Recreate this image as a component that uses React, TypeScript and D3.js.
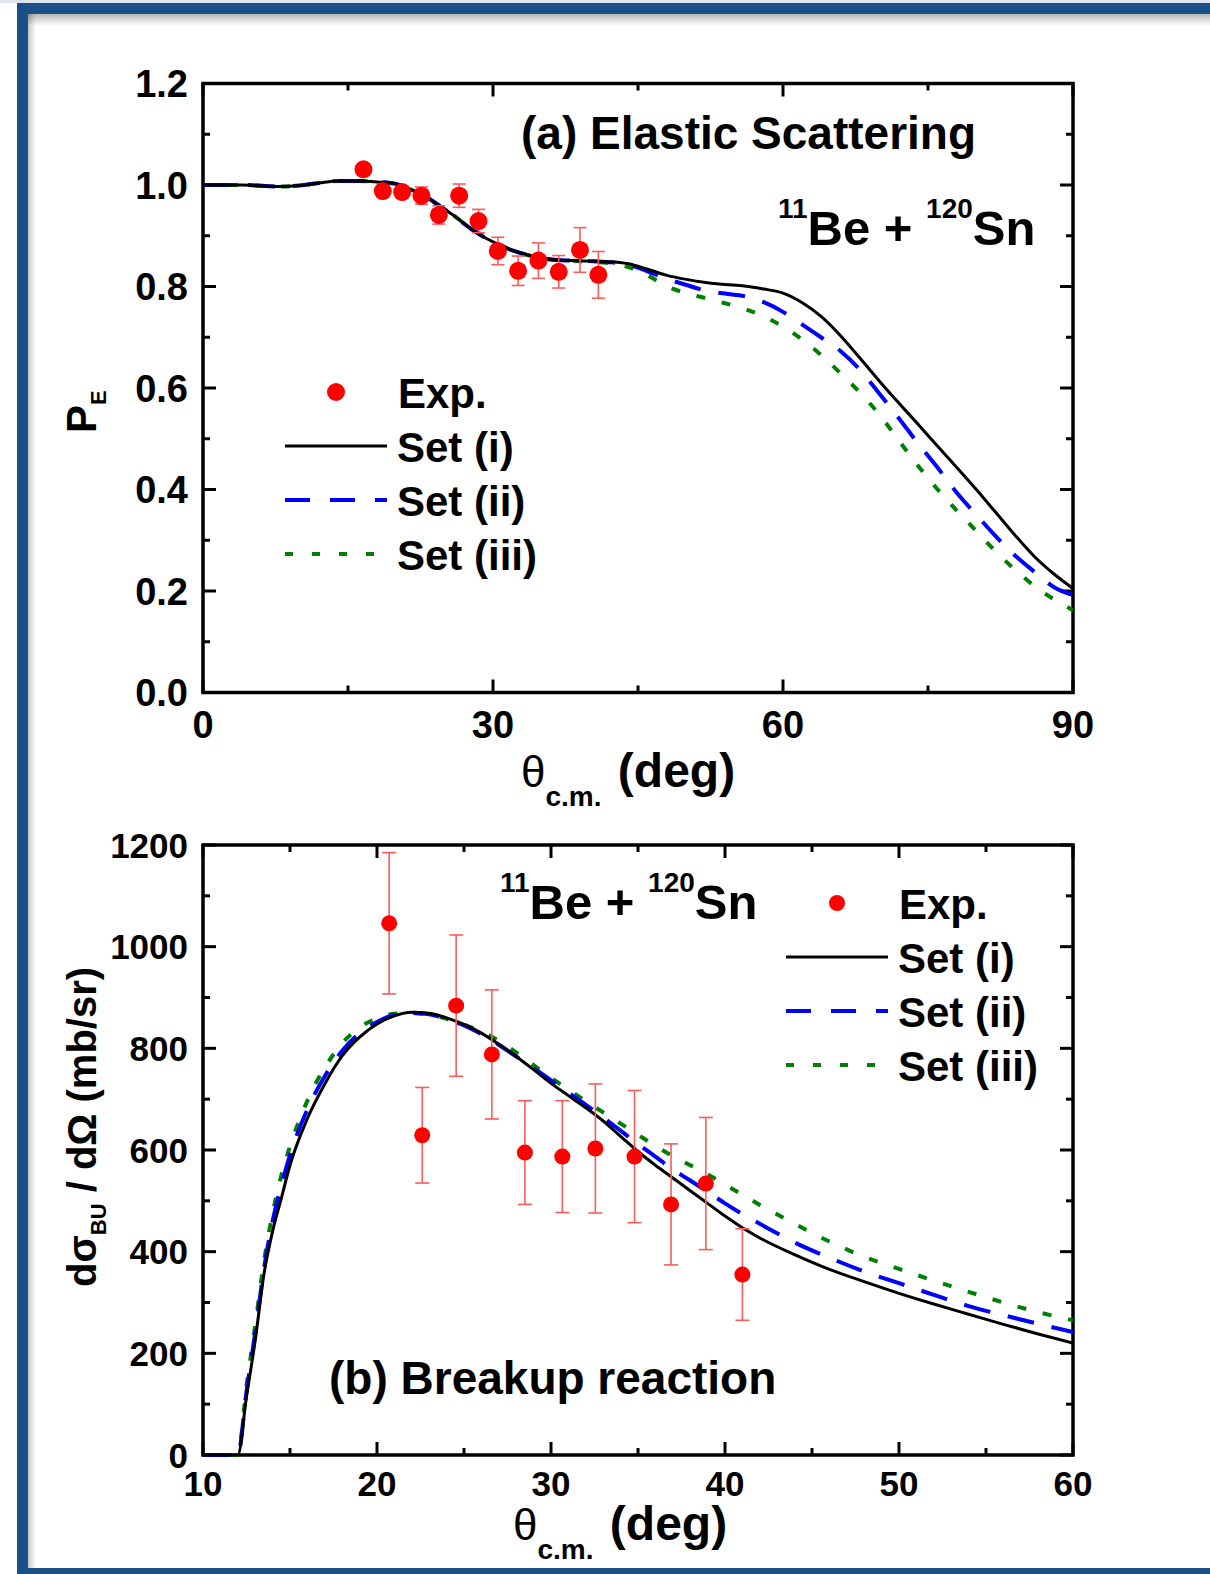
import React from "react";
import * as d3 from "d3";

const W = 1210;
const H = 1574;
const FONT = "'Liberation Sans', Arial, Helvetica, sans-serif";

// ---- panel (a): elastic scattering probability P_E vs theta_cm ----
const thetaA = [0, 4, 8, 10, 12, 14, 16, 18, 20, 21, 22, 23, 24, 25, 26, 27, 28, 29, 30, 31, 32, 33, 34, 35, 36, 38, 40, 42, 44, 46, 48, 50, 52, 54, 56, 58, 60, 62, 64, 66, 68, 70, 72, 74, 76, 78, 80, 82, 84, 86, 88, 90];
const setIA = [1.0, 1.0, 0.997, 0.999, 1.004, 1.008, 1.008, 1.006, 1.002, 0.995, 0.987, 0.978, 0.965, 0.952, 0.939, 0.924, 0.91, 0.898, 0.888, 0.879, 0.871, 0.865, 0.86, 0.856, 0.853, 0.851, 0.85, 0.849, 0.845, 0.834, 0.822, 0.814, 0.808, 0.804, 0.801, 0.795, 0.787, 0.768, 0.74, 0.702, 0.658, 0.613, 0.57, 0.528, 0.485, 0.443, 0.4, 0.355, 0.31, 0.268, 0.234, 0.205];
const setIIA = [1.0, 1.0, 0.997, 0.999, 1.004, 1.008, 1.008, 1.006, 1.002, 0.995, 0.987, 0.978, 0.965, 0.952, 0.939, 0.924, 0.91, 0.898, 0.888, 0.879, 0.871, 0.865, 0.86, 0.856, 0.853, 0.851, 0.85, 0.848, 0.843, 0.83, 0.815, 0.803, 0.792, 0.786, 0.781, 0.769, 0.75, 0.725, 0.699, 0.672, 0.635, 0.588, 0.54, 0.49, 0.443, 0.393, 0.35, 0.308, 0.27, 0.238, 0.208, 0.192];
const setIIIA = [1.0, 1.0, 0.997, 0.999, 1.004, 1.008, 1.008, 1.006, 1.002, 0.995, 0.987, 0.978, 0.965, 0.952, 0.939, 0.925, 0.912, 0.9, 0.889, 0.879, 0.871, 0.865, 0.86, 0.856, 0.853, 0.851, 0.849, 0.846, 0.838, 0.822, 0.8, 0.787, 0.777, 0.767, 0.756, 0.741, 0.721, 0.695, 0.664, 0.628, 0.59, 0.547, 0.496, 0.446, 0.4, 0.358, 0.318, 0.278, 0.242, 0.21, 0.184, 0.162];
const expThetaA = [16.6, 18.6, 20.6, 22.6, 24.4, 26.5, 28.5, 30.5, 32.6, 34.7, 36.8, 39.0, 40.9];
const expPA = [1.031, 0.988, 0.986, 0.979, 0.941, 0.979, 0.929, 0.87, 0.831, 0.851, 0.829, 0.872, 0.823];
const expErrA = [0.008, 0.008, 0.008, 0.017, 0.018, 0.023, 0.023, 0.027, 0.029, 0.035, 0.032, 0.044, 0.046];
const xTicksA = [0, 30, 60, 90];
const xMinorA = [15, 45, 75];
const yTicksA = [0, 0.2, 0.4, 0.6, 0.8, 1.0, 1.2];
const yMinorA = [0.1, 0.3, 0.5, 0.7, 0.9, 1.1];

// ---- panel (b): breakup cross section vs theta_cm ----
const thetaB = [10, 11, 12, 12.5, 13, 13.5, 14, 14.5, 15, 16, 17, 18, 19, 20, 21, 22, 23, 24, 25, 26, 27, 28, 29, 30, 31, 32, 33, 34, 35, 36, 37, 38, 39, 40, 41, 42, 44, 46, 48, 50, 52, 54, 56, 58, 60];
const setIB = [0, 0, 0, 115, 225, 355, 440, 505, 570, 662, 730, 785, 822, 848, 864, 871, 869, 860, 847, 830, 808, 784, 758, 731, 707, 683, 657, 627, 597, 570, 545, 520, 495, 470, 447, 427, 394, 365, 341, 318, 297, 277, 257, 238, 220];
const setIIB = [0, 0, 0, 125, 240, 365, 460, 530, 590, 680, 745, 795, 830, 852, 866, 870, 867, 858, 845, 828, 807, 784, 761, 737, 713, 689, 664, 638, 612, 587, 562, 540, 518, 495, 474, 455, 418, 388, 361, 338, 315, 293, 275, 258, 242];
const setIIIB = [0, 0, 0, 135, 255, 380, 475, 550, 607, 697, 762, 810, 841, 859, 868, 869, 866, 858, 847, 833, 815, 792, 767, 742, 719, 696, 674, 652, 630, 608, 588, 570, 552, 532, 512, 492, 455, 420, 390, 366, 343, 321, 300, 281, 265];
const expThetaB = [20.7, 22.6, 24.55, 26.6, 28.5, 30.65, 32.55, 34.8, 36.9, 38.9, 41.0];
const expSigB = [1046, 629, 884, 788, 595, 587, 603, 587, 493, 534, 355];
const expErrB = [139, 94, 139, 127, 102, 110, 127, 130, 119, 130, 90];
const xTicksB = [10, 20, 30, 40, 50, 60];
const xMinorB = [15, 25, 35, 45, 55];
const yTicksB = [0, 200, 400, 600, 800, 1000, 1200];
const yMinorB = [100, 300, 500, 700, 900, 1100];

const BLUE = "#0000ff";
const GREEN = "#008000";
const RED = "#ff0000";
const DASH = "27,18";
const DOT = "9,17";

const styles = [
  { color: "#000", dash: undefined as string | undefined },
  { color: BLUE, dash: DASH },
  { color: GREEN, dash: DOT },
];

function Panel({ id, x, y, xs, series, xTicks, xMinor, yTicks, yMinor, yFmt, tickSize, xLabelY, exp, r, cap }: any) {
  const [x0, x1] = x.range();
  const [y0, y1] = y.range(); // y0 bottom, y1 top
  const line = (ys: number[]) =>
    d3
      .line<number>()
      .x((_, i) => x(xs[i]))
      .y((d) => y(d))
      .curve(d3.curveMonotoneX)(ys) || "";
  return (
    <g>
      <clipPath id={id}>
        <rect x={x0} y={y1 - 2} width={x1 - x0} height={y0 - y1 + 4} />
      </clipPath>
      <rect x={x0} y={y1} width={x1 - x0} height={y0 - y1} fill="none" stroke="#000" strokeWidth={3.5} />
      <g stroke="#000" strokeWidth={3}>
        {xTicks.map((t: number) => (
          <g key={"xM" + t}>
            <line x1={x(t)} x2={x(t)} y1={y0} y2={y0 - 13} />
            <line x1={x(t)} x2={x(t)} y1={y1} y2={y1 + 13} />
          </g>
        ))}
        {xMinor.map((t: number) => (
          <g key={"xm" + t}>
            <line x1={x(t)} x2={x(t)} y1={y0} y2={y0 - 7} />
            <line x1={x(t)} x2={x(t)} y1={y1} y2={y1 + 7} />
          </g>
        ))}
        {yTicks.map((t: number) => (
          <g key={"yM" + t}>
            <line x1={x0} x2={x0 + 13} y1={y(t)} y2={y(t)} />
            <line x1={x1} x2={x1 - 13} y1={y(t)} y2={y(t)} />
          </g>
        ))}
        {yMinor.map((t: number) => (
          <g key={"ym" + t}>
            <line x1={x0} x2={x0 + 7} y1={y(t)} y2={y(t)} />
            <line x1={x1} x2={x1 - 7} y1={y(t)} y2={y(t)} />
          </g>
        ))}
      </g>
      <g clipPath={`url(#${id})`}>
        {series.map((ys: number[], i: number) => (
          <path
            key={i}
            d={line(ys)}
            fill="none"
            stroke={styles[i].color}
            strokeWidth={i === 0 ? 3 : 4}
            strokeDasharray={styles[i].dash}
          />
        )).reverse()}
      </g>
      {exp.x.map((t: number, i: number) => {
        const cx = x(t);
        const lo = y(exp.y[i] - exp.e[i]);
        const hi = y(exp.y[i] + exp.e[i]);
        return (
          <g key={i} stroke="#ff5a5a" strokeWidth={1.6}>
            <line x1={cx} x2={cx} y1={lo} y2={hi} />
            <line x1={cx - cap} x2={cx + cap} y1={lo} y2={lo} />
            <line x1={cx - cap} x2={cx + cap} y1={hi} y2={hi} />
          </g>
        );
      })}
      {exp.x.map((t: number, i: number) => (
        <circle key={i} cx={x(t)} cy={y(exp.y[i])} r={r} fill={RED} />
      ))}
      <g fontFamily={FONT} fontWeight="bold" fontSize={tickSize} fill="#000">
        {xTicks.map((t: number) => (
          <text key={"xl" + t} x={x(t)} y={xLabelY} textAnchor="middle">
            {t}
          </text>
        ))}
        {yTicks.map((t: number) => (
          <text key={"yl" + t} x={188} y={y(t)} dy="0.36em" textAnchor="end">
            {yFmt(t)}
          </text>
        ))}
      </g>
    </g>
  );
}

function Legend({ x, y, r }: { x: number; y: number; r: number }) {
  // x: line start, y: Exp. row centre
  const rows = ["Set (i)", "Set (ii)", "Set (iii)"];
  return (
    <g fontFamily={FONT} fontWeight="bold" fontSize={42}>
      <circle cx={x + 51} cy={y} r={r} fill={RED} />
      <text x={x + 113} y={y + 16}>Exp.</text>
      {rows.map((lab, i) => (
        <g key={lab}>
          <line
            x1={x}
            x2={x + 102}
            y1={y + 54 * (i + 1)}
            y2={y + 54 * (i + 1)}
            stroke={styles[i].color}
            strokeWidth={i === 0 ? 3 : 4}
            strokeDasharray={i === 1 ? "25,20" : i === 2 ? "8,19" : undefined}
          />
          <text x={x + 112} y={y + 54 * (i + 1) + 16}>{lab}</text>
        </g>
      ))}
    </g>
  );
}

function Reaction({ x, y }: { x: number; y: number }) {
  return (
    <text x={x} y={y} fontFamily={FONT} fontWeight="bold" fontSize={49}>
      <tspan fontSize={28} dy={-27}>11</tspan>
      <tspan dy={27}>Be + </tspan>
      <tspan fontSize={28} dy={-27}>120</tspan>
      <tspan dy={27}>Sn</tspan>
    </text>
  );
}

function XTitle({ x, y }: { x: number; y: number }) {
  return (
    <text x={x} y={y} fontFamily={FONT} fontWeight="bold">
      <tspan fontSize={44} fontWeight="normal">θ</tspan>
      <tspan fontSize={28} dy={19}>c.m.</tspan>
      <tspan fontSize={48} dy={-19} dx={3}> (deg)</tspan>
    </text>
  );
}

export default function App() {
  const xA = d3.scaleLinear().domain([0, 90]).range([203, 1073]);
  const yA = d3.scaleLinear().domain([0, 1.2]).range([692.5, 83.5]);
  const xB = d3.scaleLinear().domain([10, 60]).range([203, 1073]);
  const yB = d3.scaleLinear().domain([0, 1200]).range([1455, 845]);

  return (
    <svg
      width={W}
      height={H}
      viewBox={`0 0 ${W} ${H}`}
      style={{ position: "absolute", left: 0, top: 0, display: "block", background: "#fff" }}
    >
      <defs>
        <linearGradient id="shTop" x1="0" y1="0" x2="0" y2="1">
          <stop offset="0" stopColor="#000" stopOpacity={0.28} />
          <stop offset="1" stopColor="#000" stopOpacity={0} />
        </linearGradient>
        <linearGradient id="shLeft" x1="0" y1="0" x2="1" y2="0">
          <stop offset="0" stopColor="#000" stopOpacity={0.22} />
          <stop offset="1" stopColor="#000" stopOpacity={0} />
        </linearGradient>
      </defs>
      <rect x={0} y={0} width={W} height={H} fill="#fff" />
      <rect x={0} y={0} width={W} height={3} fill="#dfe5ee" />
      {/* blue frame */}
      <rect x={28} y={14} width={W - 28} height={12} fill="url(#shTop)" />
      <rect x={28} y={14} width={8} height={H - 20} fill="url(#shLeft)" />
      <rect x={17} y={3} width={W - 17} height={11} fill="#1b4f87" />
      <rect x={17} y={3} width={11} height={H - 3} fill="#1b4f87" />
      <rect x={17} y={1568} width={W - 17} height={6} fill="#1b4f87" />

      {/* panel (a) */}
      <Panel
        id="clipA"
        x={xA}
        y={yA}
        xs={thetaA}
        series={[setIA, setIIA, setIIIA]}
        xTicks={xTicksA}
        xMinor={xMinorA}
        yTicks={yTicksA}
        yMinor={yMinorA}
        yFmt={(v: number) => v.toFixed(1)}
        tickSize={38}
        xLabelY={738}
        exp={{ x: expThetaA, y: expPA, e: expErrA }}
        r={9}
        cap={6.5}
      />
      <text x={521} y={149} fontFamily={FONT} fontWeight="bold" fontSize={46}>
        (a) Elastic Scattering
      </text>
      <Reaction x={778} y={245} />
      <Legend x={285} y={392} r={9} />
      <XTitle x={521} y={787} />
      <text transform="translate(96,433) rotate(-90)" fontFamily={FONT} fontWeight="bold">
        <tspan fontSize={42}>P</tspan>
        <tspan fontSize={22} dy={10}>E</tspan>
      </text>

      {/* panel (b) */}
      <Panel
        id="clipB"
        x={xB}
        y={yB}
        xs={thetaB}
        series={[setIB, setIIB, setIIIB]}
        xTicks={xTicksB}
        xMinor={xMinorB}
        yTicks={yTicksB}
        yMinor={yMinorB}
        yFmt={(v: number) => String(v)}
        tickSize={35}
        xLabelY={1496}
        exp={{ x: expThetaB, y: expSigB, e: expErrB }}
        r={8}
        cap={7}
      />
      <Reaction x={500} y={919} />
      <text x={329} y={1394} fontFamily={FONT} fontWeight="bold" fontSize={46}>
        (b) Breakup reaction
      </text>
      <Legend x={786} y={903} r={8} />
      <XTitle x={513} y={1540} />
      <text transform="translate(96,1287) rotate(-90)" fontFamily={FONT} fontWeight="bold">
        <tspan fontSize={40}>dσ</tspan>
        <tspan fontSize={22} dy={10}>BU</tspan>
        <tspan fontSize={40} dy={-10}> / dΩ (mb/sr)</tspan>
      </text>
    </svg>
  );
}
